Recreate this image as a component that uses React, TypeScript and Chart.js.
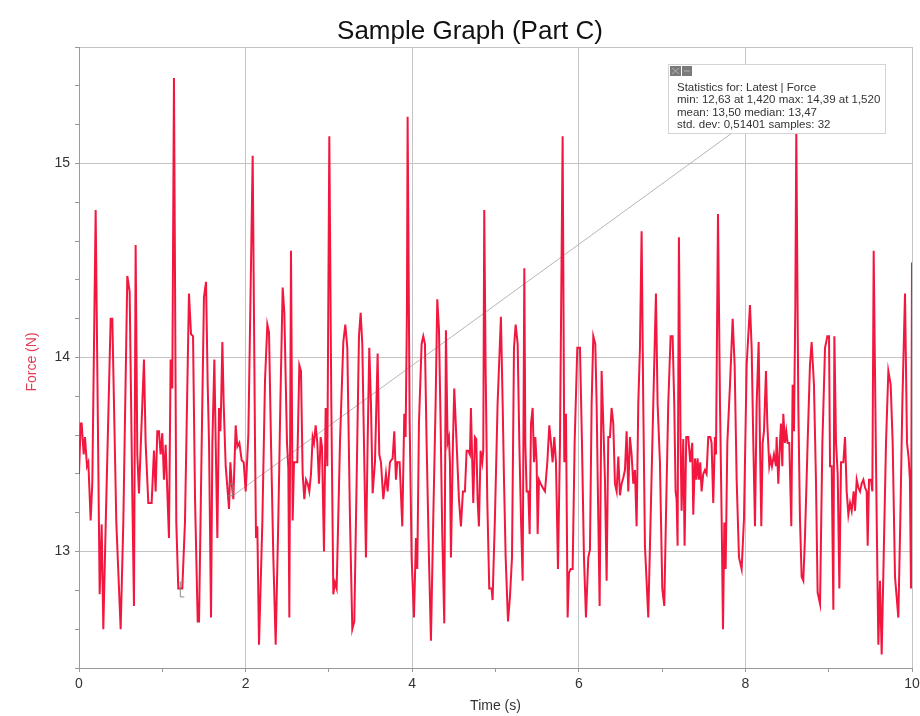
import React, { useEffect, useRef } from "react";
import { Chart, registerables } from "chart.js";

Chart.register(...registerables);

const chartTitle = "Sample Graph (Part C)";
const xAxisTitle = "Time (s)";
const yAxisTitle = "Force (N)";

const statsLines = [
  "Statistics for: Latest | Force",
  "min: 12,63 at 1,420 max: 14,39 at 1,520",
  "mean: 13,50 median: 13,47",
  "std. dev: 0,51401 samples: 32",
];

// selection region markers (time, force)
const selectionTimes = [1.21, 1.83];
const selectionForces = [12.81, 13.29];

const timeValues = [
  0.0, 0.02, 0.032, 0.056, 0.072, 0.096, 0.112, 0.14, 0.16, 0.2, 0.248, 0.272, 0.292, 0.32, 0.38, 0.4, 0.448, 0.5, 0.532, 0.58,
  0.608, 0.64, 0.66, 0.68, 0.7, 0.72, 0.78, 0.8, 0.832, 0.872, 0.9, 0.92, 0.94, 0.96, 0.98, 1.0, 1.02, 1.04, 1.08, 1.1,
  1.12, 1.14, 1.168, 1.192, 1.24, 1.272,
  1.32, 1.345, 1.369, 1.393, 1.425, 1.441, 1.473, 1.5, 1.525, 1.545, 1.561, 1.585, 1.601, 1.625, 1.641, 1.661, 1.681, 1.697, 1.705, 1.721,
  1.737, 1.761, 1.785, 1.801, 1.817, 1.833, 1.853, 1.881, 1.901, 1.925, 1.953, 1.977, 2.001, 2.033, 2.053, 2.085, 2.113, 2.125, 2.141, 2.161,
  2.201, 2.233, 2.261, 2.281, 2.305, 2.333, 2.361, 2.393, 2.417, 2.445, 2.465, 2.497, 2.513, 2.525, 2.545,
  2.565, 2.581, 2.621, 2.645, 2.665, 2.685, 2.705, 2.725, 2.745, 2.765, 2.785, 2.805, 2.821, 2.841, 2.861, 2.881, 2.901, 2.917, 2.941, 2.961,
  2.981, 3.005, 3.029, 3.053, 3.073, 3.093, 3.133, 3.173, 3.197, 3.221, 3.253, 3.281, 3.305, 3.333, 3.361, 3.381, 3.401, 3.421, 3.445, 3.465,
  3.485, 3.505, 3.525, 3.553, 3.585, 3.605, 3.625, 3.653, 3.685, 3.705, 3.733, 3.765, 3.785, 3.805, 3.821,
  3.849, 3.881, 3.905, 3.921, 3.937, 3.945, 3.969, 3.993, 4.021, 4.045, 4.061, 4.081, 4.113, 4.133, 4.153, 4.173, 4.201, 4.225, 4.253, 4.281,
  4.301, 4.321, 4.341, 4.361, 4.385, 4.405, 4.425, 4.441, 4.453, 4.465, 4.489, 4.505, 4.533, 4.561, 4.585, 4.609, 4.633, 4.653, 4.673, 4.693,
  4.705, 4.721, 4.733, 4.753, 4.769, 4.785, 4.801, 4.821, 4.841, 4.853, 4.865, 4.881, 4.901, 4.925, 4.953, 4.965, 4.993, 5.025, 5.065,
  5.086, 5.102, 5.122, 5.15, 5.174, 5.198, 5.222, 5.242, 5.266, 5.286, 5.306, 5.326, 5.346, 5.358, 5.374, 5.394, 5.41, 5.426, 5.446, 5.462,
  5.478, 5.494, 5.506, 5.522, 5.542, 5.566, 5.594, 5.622, 5.646, 5.666, 5.686, 5.706, 5.726, 5.75, 5.774, 5.806, 5.826, 5.846, 5.866, 5.882,
  5.902, 5.926, 5.95, 5.982, 6.014, 6.038, 6.062, 6.086, 6.114, 6.134, 6.154, 6.174, 6.198, 6.214, 6.234, 6.25, 6.274, 6.294, 6.314, 6.334,
  6.354, 6.374, 6.394, 6.414, 6.434, 6.454, 6.474, 6.494, 6.514, 6.534, 6.554, 6.574, 6.594, 6.614, 6.634, 6.654, 6.674, 6.694, 6.714, 6.734,
  6.754, 6.774, 6.794, 6.834, 6.862, 6.894, 6.926, 6.946, 6.974, 7.002, 7.026, 7.046, 7.074, 7.102, 7.126, 7.146, 7.162, 7.174, 7.186, 7.202,
  7.222, 7.234, 7.254, 7.27, 7.29, 7.314, 7.338, 7.362, 7.374, 7.394, 7.41, 7.426, 7.442, 7.458, 7.474, 7.494, 7.514, 7.534, 7.554, 7.578,
  7.594, 7.614, 7.634,
  7.647, 7.671, 7.695, 7.715, 7.731, 7.747, 7.763, 7.783, 7.815, 7.847, 7.871, 7.895, 7.923, 7.955, 7.983, 8.015, 8.055, 8.075, 8.095, 8.115,
  8.135, 8.159, 8.175, 8.191, 8.207, 8.223, 8.247, 8.263, 8.287, 8.303, 8.319, 8.343, 8.367, 8.375, 8.395, 8.415, 8.427, 8.443, 8.455, 8.475,
  8.491, 8.507, 8.527, 8.551, 8.567, 8.583, 8.599, 8.611, 8.635, 8.655, 8.675, 8.695, 8.715, 8.747, 8.775, 8.795, 8.823, 8.847, 8.867,
  8.896, 8.924, 8.956, 8.984, 9.004, 9.016, 9.036, 9.056, 9.068, 9.088, 9.108, 9.128, 9.148, 9.176, 9.196, 9.216, 9.236, 9.256, 9.276, 9.3,
  9.316, 9.336, 9.356, 9.376, 9.396, 9.416, 9.436, 9.456, 9.468, 9.484, 9.508, 9.524, 9.54, 9.56, 9.576, 9.596, 9.616, 9.636, 9.66, 9.688,
  9.716, 9.744, 9.768, 9.796, 9.836, 9.86, 9.884, 9.916, 9.94, 9.96, 9.975, 9.988, 10.0,
];

const forceValues = [
  13.4, 13.66, 13.66, 13.5, 13.59, 13.44, 13.46, 13.16, 13.36, 14.76, 12.78, 13.14, 12.6, 13.13, 14.2, 14.2, 13.15, 12.6, 13.15, 14.42,
  14.34, 13.29, 12.72, 14.58, 13.5, 13.3, 13.99, 13.56, 13.25, 13.25, 13.52, 13.31, 13.62, 13.62, 13.5, 13.61, 13.37, 13.55, 13.07, 13.99,
  13.84, 15.44, 13.15, 12.81, 12.81, 13.15,
  14.33, 14.12, 14.11, 13.27, 12.64, 12.64, 13.56, 14.31, 14.39, 13.86, 13.56, 12.66, 13.56, 13.99, 13.56, 13.07, 13.74, 13.62, 13.74, 14.08,
  13.76, 13.44, 13.31, 13.22, 13.46, 13.35, 13.27, 13.65, 13.54, 13.56, 13.47, 13.46, 13.31, 13.6, 14.15, 15.04, 13.56, 13.07, 13.13, 12.52,
  13.15, 13.88, 14.17, 14.13, 13.56, 12.97, 12.52, 13.17, 13.76, 14.36, 14.23, 13.56, 13.43, 12.66, 14.55,
  13.16, 13.46, 13.46, 13.96, 13.93, 13.4, 13.27, 13.37, 13.35, 13.31, 13.4, 13.59, 13.56, 13.65, 13.56, 13.35, 13.59, 13.54, 13.0, 13.74,
  13.44, 15.14, 13.76, 12.78, 12.84, 12.81, 13.56, 14.08, 14.17, 14.05, 13.17, 12.6, 12.64, 13.37, 14.11, 14.23, 14.07, 13.56, 12.97, 13.56,
  14.05, 13.76, 13.3, 13.46, 14.02, 13.5, 13.46, 13.27, 13.4, 13.31, 13.46, 13.48, 13.62, 13.37, 13.46,
  13.46, 13.13, 13.71, 13.59, 14.25, 15.24, 13.68, 12.97, 12.66, 13.07, 12.91, 13.66, 14.07, 14.11, 14.07, 13.56, 12.97, 12.54, 13.17, 13.76,
  14.3, 14.15, 13.66, 13.09, 12.63, 14.14, 13.56, 13.59, 13.46, 12.97, 13.56, 13.84, 13.56, 13.27, 13.13, 13.31, 13.31, 13.52, 13.52, 13.5,
  13.74, 13.46, 13.25, 13.59, 13.58, 13.27, 13.13, 13.52, 13.46, 13.52, 14.76, 13.96, 13.27, 12.81, 12.81, 12.75, 13.17, 13.76, 14.21,
  13.76, 13.37, 12.97, 12.64, 12.77, 12.97, 14.05, 14.17, 14.07, 13.56, 13.17, 12.85, 14.46, 13.56, 13.31, 13.31, 13.09, 13.66, 13.74, 13.46,
  13.59, 13.46, 13.09, 13.37, 13.35, 13.33, 13.31, 13.46, 13.65, 13.56, 13.46, 13.59, 13.46, 12.91, 13.56, 15.14, 13.46, 13.71, 12.66, 12.89,
  12.91, 12.91, 13.56, 14.05, 14.05, 13.56, 12.97, 12.66, 12.97, 13.01, 13.76, 14.11, 14.07, 13.76, 13.17, 12.72, 13.93, 13.66, 13.37, 12.85,
  13.59, 13.59, 13.74, 13.66, 13.35, 13.31, 13.49, 13.29, 13.35, 13.38, 13.42, 13.62, 13.31, 13.59, 13.5, 13.35, 13.42, 13.13, 13.76, 14.05,
  14.65, 13.76, 13.03, 12.66, 13.17, 13.76, 14.33, 13.76, 13.46, 12.81, 12.72, 13.17, 13.76, 14.11, 14.11, 13.76, 13.31, 13.27, 13.03, 14.62,
  13.56, 13.21, 13.58, 13.03, 13.59, 13.59, 13.46, 13.56, 13.19, 13.48, 13.37, 13.48, 13.37, 13.46, 13.31, 13.4, 13.42, 13.4, 13.59, 13.59,
  13.56, 13.25, 13.59,
  13.5, 14.74, 13.76, 13.17, 12.6, 13.15, 12.91, 13.56, 13.86, 14.2, 13.96, 13.37, 12.97, 12.91, 13.17, 13.96, 14.27, 14.05, 13.56, 13.13,
  13.76, 14.08, 13.56, 13.13, 13.56, 13.62, 13.93, 13.66, 13.44, 13.48, 13.44, 13.5, 13.44, 13.59, 13.35, 13.56, 13.66, 13.44, 13.71, 13.56,
  13.62, 13.56, 13.56, 13.13, 13.86, 13.62, 14.25, 15.16, 13.76, 13.17, 12.87, 12.85, 13.07, 13.56, 13.96, 14.08, 13.86, 13.37, 12.79,
  12.73, 13.56, 14.05, 14.11, 14.11, 13.44, 13.44, 12.7, 14.11, 13.56, 13.4, 12.81, 13.46, 13.46, 13.59, 13.31, 13.19, 13.25, 13.21, 13.31,
  13.21, 13.37, 13.33, 13.31, 13.35, 13.37, 13.33, 13.31, 13.03, 13.37, 13.37, 13.31, 14.55, 13.76, 13.17, 12.52, 12.85, 12.47, 12.97, 13.56,
  13.93, 13.86, 13.56, 12.87, 12.66, 13.17, 13.76, 14.33, 13.56, 13.48, 13.37, 12.81, 14.49,
];

const xMin = 0;
const xMax = 10;
const yMin = 12.4;
const yMax = 15.6;

const FONT = "'Liberation Sans', Arial, sans-serif";
const LINE_COLOR = "#f2173f";
const GRID_COLOR = "#c4c4c4";
const AXIS_COLOR = "#9a9a9a";

const isInt = (v: number) => Math.abs(v - Math.round(v)) < 1e-6;

const decorPlugin = {
  id: "decor",
  beforeDatasetsDraw(chart: any) {
    const { ctx, chartArea, scales } = chart;
    const xs = scales.x;
    const ys = scales.y;
    const boxLeft = chartArea.left + 589;
    const boxTop = chartArea.top + 17;
    const boxH = 69;
    ctx.save();
    ctx.strokeStyle = "#b5b5b5";
    ctx.lineWidth = 1;
    ctx.beginPath();
    ctx.moveTo(xs.getPixelForValue(selectionTimes[1]) + 2, ys.getPixelForValue(selectionForces[1]));
    ctx.lineTo(boxLeft + 64, boxTop + boxH);
    ctx.stroke();
    ctx.restore();
  },
  afterDraw(chart: any) {
    const { ctx, chartArea, scales } = chart;
    const xs = scales.x;
    const ys = scales.y;
    ctx.save();
    // title
    ctx.fillStyle = "#111";
    ctx.font = `26px ${FONT}`;
    ctx.textAlign = "center";
    ctx.textBaseline = "middle";
    ctx.fillText(chartTitle, 470, 32);
    // x title
    ctx.fillStyle = "#333";
    ctx.font = `14px ${FONT}`;
    ctx.fillText(xAxisTitle, (chartArea.left + chartArea.right) / 2, 706);
    // y title
    ctx.save();
    ctx.translate(32, 362);
    ctx.rotate(-Math.PI / 2);
    ctx.fillStyle = "#e23b55";
    ctx.font = `14px ${FONT}`;
    ctx.fillText(yAxisTitle, 0, 0);
    ctx.restore();

    // selection brackets
    ctx.strokeStyle = "#8a8a8a";
    ctx.lineWidth = 1;
    const sx = xs.getPixelForValue(selectionTimes[0]);
    const sy = ys.getPixelForValue(selectionForces[0]);
    ctx.beginPath();
    ctx.moveTo(sx + 4.5, sy - 6.5);
    ctx.lineTo(sx + 0.5, sy - 6.5);
    ctx.lineTo(sx + 0.5, sy + 8.5);
    ctx.lineTo(sx + 4.5, sy + 8.5);
    ctx.stroke();
    const ex = xs.getPixelForValue(selectionTimes[1]);
    const ey = ys.getPixelForValue(selectionForces[1]);
    ctx.beginPath();
    ctx.moveTo(ex - 3.5, ey - 11.5);
    ctx.lineTo(ex + 1.5, ey - 11.5);
    ctx.lineTo(ex + 1.5, ey + 0.5);
    ctx.lineTo(ex - 3.5, ey + 0.5);
    ctx.stroke();

    // stats box
    const bx = chartArea.left + 589;
    const by = chartArea.top + 17;
    const bw = 217;
    const bh = 69;
    ctx.fillStyle = "#ffffff";
    ctx.fillRect(bx, by, bw, bh);
    ctx.strokeStyle = "#d4d4d4";
    ctx.strokeRect(bx + 0.5, by + 0.5, bw, bh);
    ctx.fillStyle = "#7a7a7a";
    ctx.fillRect(bx + 2, by + 2, 11, 10);
    ctx.fillRect(bx + 14, by + 2, 10, 10);
    ctx.strokeStyle = "#b0b0b0";
    ctx.beginPath();
    ctx.moveTo(bx + 4, by + 4);
    ctx.lineTo(bx + 11, by + 10);
    ctx.moveTo(bx + 11, by + 4);
    ctx.lineTo(bx + 4, by + 10);
    ctx.moveTo(bx + 16, by + 7);
    ctx.lineTo(bx + 22, by + 7);
    ctx.stroke();
    ctx.fillStyle = "#333";
    ctx.font = `11.5px ${FONT}`;
    ctx.textAlign = "left";
    ctx.textBaseline = "alphabetic";
    statsLines.forEach((line, i) => {
      ctx.fillText(line, bx + 9, by + 27 + i * 12.3);
    });
    ctx.restore();
  },
};

export default function App() {
  const canvasRef = useRef<HTMLCanvasElement | null>(null);

  useEffect(() => {
    document.body.style.margin = "0";
    const canvas = canvasRef.current;
    if (!canvas) return;
    const points = timeValues.map((t, i) => ({ x: t, y: forceValues[i] }));
    const chart = new Chart(canvas, {
      type: "line",
      data: {
        datasets: [
          {
            label: "Force",
            data: points,
            borderColor: LINE_COLOR,
            borderWidth: 2,
            pointRadius: 0,
            tension: 0,
            fill: false,
          },
        ],
      },
      options: {
        animation: false,
        responsive: false,
        devicePixelRatio: 1,
        layout: { padding: { left: 0, right: 8, top: 47, bottom: 0 } },
        plugins: {
          legend: { display: false },
          tooltip: { enabled: false },
          title: { display: false },
        },
        scales: {
          x: {
            type: "linear",
            min: xMin,
            max: xMax,
            afterFit: (scale: any) => {
              scale.height = 48;
              scale.paddingLeft = 0;
              scale.paddingRight = 0;
            },
            ticks: {
              stepSize: 1,
              autoSkip: false,
              maxRotation: 0,
              includeBounds: false,
              padding: 4,
              color: "#333",
              font: { family: FONT, size: 14 },
              callback: (v: any) => (Math.round(v) % 2 === 0 ? String(Math.round(v)) : ""),
            },
            grid: {
              color: (c: any) => (c.tick && Math.round(c.tick.value) % 2 === 0 ? GRID_COLOR : "rgba(0,0,0,0)"),
              tickColor: AXIS_COLOR,
              tickLength: 4,
              lineWidth: 1,
            },
            border: { color: AXIS_COLOR, width: 1 },
          },
          y: {
            type: "linear",
            min: yMin,
            max: yMax,
            afterFit: (scale: any) => {
              scale.width = 79;
              scale.paddingTop = 0;
              scale.paddingBottom = 0;
            },
            ticks: {
              stepSize: 0.2,
              autoSkip: false,
              includeBounds: false,
              padding: 5,
              color: "#333",
              font: { family: FONT, size: 14 },
              callback: (v: any) => (isInt(v) ? String(Math.round(v)) : ""),
            },
            grid: {
              color: (c: any) =>
                c.tick && (isInt(c.tick.value) || Math.abs(c.tick.value - yMax) < 1e-6) ? GRID_COLOR : "rgba(0,0,0,0)",
              tickColor: AXIS_COLOR,
              tickLength: 4,
              lineWidth: 1,
            },
            border: { color: AXIS_COLOR, width: 1 },
          },
        },
      },
      plugins: [decorPlugin],
    });
    return () => chart.destroy();
  }, []);

  return (
    <div style={{ position: "absolute", left: 0, top: 0, width: 920, height: 716, background: "#fff" }}>
      <canvas ref={canvasRef} width={920} height={716} style={{ width: 920, height: 716, display: "block" }} />
    </div>
  );
}
